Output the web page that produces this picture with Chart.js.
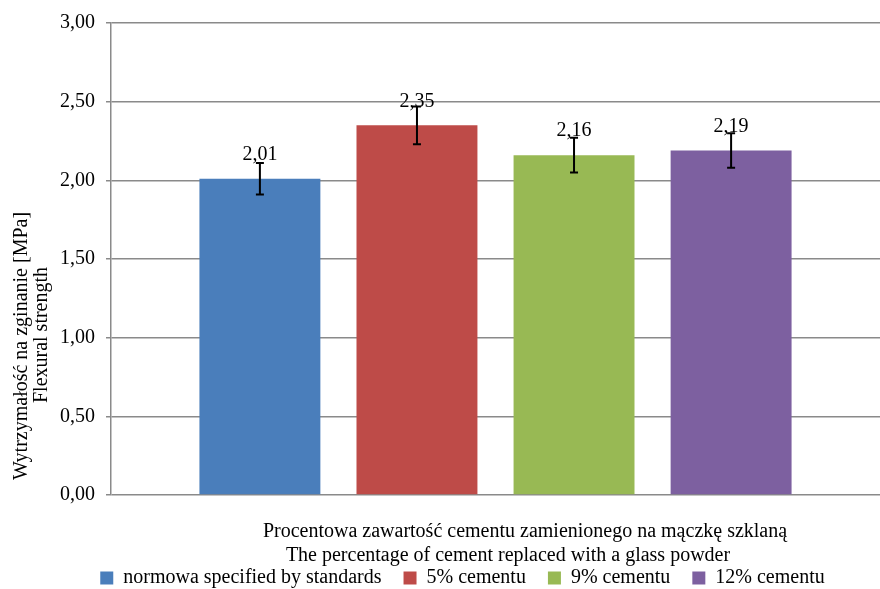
<!DOCTYPE html>
<html>
<head>
<meta charset="utf-8">
<script src="https://cdn.jsdelivr.net/npm/chart.js@4/dist/chart.umd.min.js"></script>
<style>
  html, body { margin: 0; padding: 0; background: #fff; }
  #wrap { width: 880px; height: 589px; }
</style>
</head>
<body>
<div id="wrap"><canvas id="chart" width="880" height="589"></canvas></div>
<script>
// dane z wykresu
const seriesNames = ['normowa specified by standards', '5% cementu', '9% cementu', '12% cementu'];
const values = [2.01, 2.35, 2.16, 2.19];
const errors = [0.10, 0.12, 0.11, 0.11];
const colors = ['#4a7ebb', '#be4b48', '#98b954', '#7d60a0'];
const yTitle = ['Wytrzymałość na zginanie [MPa]', 'Flexural strength'];
const xTitle = ['Procentowa zawartość cementu zamienionego na mączkę szklaną', 'The percentage of cement replaced with a glass powder'];

const FONT = "'Liberation Serif', 'Times New Roman', serif";
const SIZE = 20;
const fmt = v => v.toFixed(2).replace('.', ',');

// etykiety wartości + słupki błędów
const barExtras = {
  id: 'barExtras',
  afterDatasetsDraw(chart) {
    const ctx = chart.ctx;
    const y = chart.scales.y;
    ctx.save();
    ctx.font = SIZE + 'px ' + FONT;
    ctx.fillStyle = '#000';
    ctx.textAlign = 'center';
    ctx.textBaseline = 'middle';
    chart.data.datasets.forEach((ds, i) => {
      const bar = chart.getDatasetMeta(i).data[0];
      ctx.fillText(fmt(values[i]), bar.x, bar.y - 24);
    });
    ctx.strokeStyle = '#000';
    ctx.lineWidth = 2;
    chart.data.datasets.forEach((ds, i) => {
      const bar = chart.getDatasetMeta(i).data[0];
      const top = y.getPixelForValue(values[i] + errors[i]);
      const bot = y.getPixelForValue(values[i] - errors[i]);
      ctx.beginPath();
      ctx.moveTo(bar.x, top); ctx.lineTo(bar.x, bot);
      ctx.moveTo(bar.x - 4, top); ctx.lineTo(bar.x + 4, top);
      ctx.moveTo(bar.x - 4, bot); ctx.lineTo(bar.x + 4, bot);
      ctx.stroke();
    });
    ctx.restore();
  }
};

// tytuły osi
const axisTitles = {
  id: 'axisTitles',
  afterDraw(chart) {
    const ctx = chart.ctx;
    const text = (s, x, y, rot) => {
      ctx.save();
      ctx.font = SIZE + 'px ' + FONT;
      ctx.fillStyle = '#000';
      ctx.textAlign = 'center';
      ctx.textBaseline = 'middle';
      ctx.translate(x, y);
      if (rot) ctx.rotate(-Math.PI / 2);
      ctx.fillText(s, 0, 0);
      ctx.restore();
    };
    text(xTitle[0], 525, 532);
    text(xTitle[1], 508, 556);
    text(yTitle[0], 22, 346, true);
    text(yTitle[1], 42, 335, true);
  }
};

new Chart(document.getElementById('chart').getContext('2d'), {
  type: 'bar',
  data: {
    labels: [''],
    datasets: seriesNames.map((name, i) => ({
      label: name,
      data: [values[i]],
      backgroundColor: colors[i],
      borderWidth: 0,
      categoryPercentage: 0.817,
      barPercentage: 0.77
    }))
  },
  options: {
    responsive: false,
    animation: false,
    layout: { padding: { top: 19, right: 0, bottom: -9, left: 45 } },
    plugins: {
      tooltip: { enabled: false },
      legend: {
        position: 'bottom',
        labels: {
          font: { family: FONT, size: SIZE },
          color: '#000',
          boxWidth: 13,
          boxHeight: 13,
          padding: 22
        }
      }
    },
    scales: {
      x: {
        grid: { display: false },
        border: { display: false },
        ticks: { display: false },
        afterFit: s => { s.height = 51; }
      },
      y: {
        min: 0,
        max: 3,
        ticks: {
          stepSize: 0.5,
          padding: 11,
          color: '#000',
          font: { family: FONT, size: SIZE },
          callback: v => fmt(v)
        },
        grid: { color: '#8a8a8a', lineWidth: 1.5, tickLength: 5 },
        border: { color: '#8a8a8a', width: 1.5 },
        afterFit: s => { s.width = 66; }
      }
    }
  },
  plugins: [barExtras, axisTitles]
});
</script>
</body>
</html>
